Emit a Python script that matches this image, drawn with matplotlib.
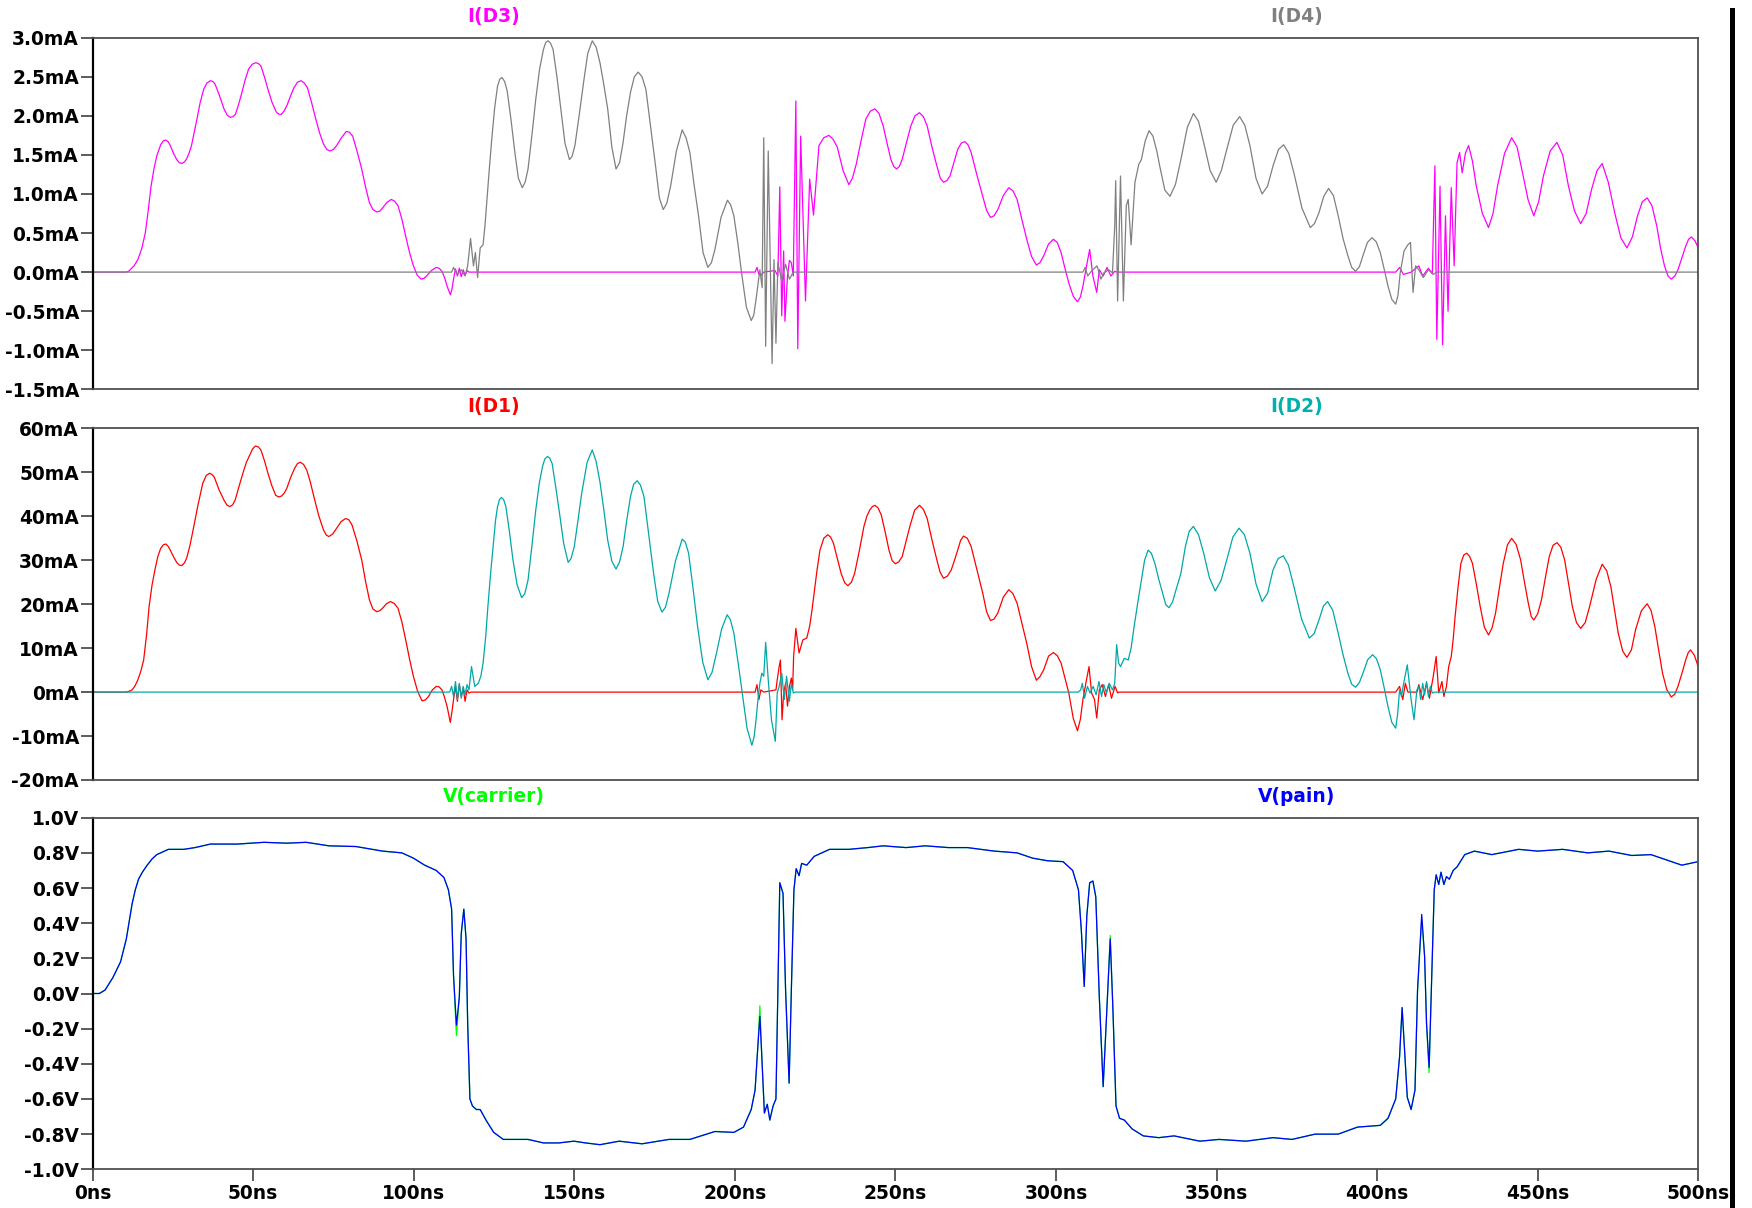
import matplotlib
matplotlib.use("Agg")
import matplotlib.pyplot as plt
from matplotlib.patches import Rectangle

# ---------------------------------------------------------------------------
# Transient waveforms: (time in ns, value)
# ---------------------------------------------------------------------------

# I(D3), mA
d3_points = [
    (0, 0), (10.5, 0), (11.2, 0.01), (11.7, 0.03), (12.9, 0.08), (14.1, 0.16), (15.3, 0.30),
    (16.4, 0.50), (17.3, 0.78), (18.2, 1.10), (19.1, 1.32), (20.0, 1.49), (21.2, 1.63),
    (22.0, 1.68), (22.8, 1.69), (23.5, 1.67), (24.2, 1.62), (25.2, 1.52), (26.2, 1.44),
    (27.0, 1.40), (27.8, 1.39), (28.6, 1.41), (29.3, 1.45), (30.1, 1.53), (30.8, 1.62),
    (31.6, 1.78), (32.5, 1.96), (33.5, 2.17), (34.6, 2.34), (35.6, 2.42), (36.7, 2.45),
    (37.4, 2.44), (38.1, 2.41), (39.5, 2.26), (40.9, 2.09), (41.9, 2.01), (42.9, 1.98),
    (43.7, 1.99), (44.5, 2.02), (45.5, 2.15), (46.5, 2.30), (47.5, 2.46), (48.6, 2.60),
    (49.7, 2.66), (50.8, 2.68), (51.6, 2.67), (52.4, 2.64), (53.5, 2.50), (54.6, 2.34),
    (55.9, 2.17), (57.2, 2.05), (58.0, 2.02), (58.8, 2.02), (59.6, 2.06), (60.5, 2.13),
    (61.6, 2.25), (62.7, 2.36), (63.8, 2.43), (64.9, 2.45), (65.9, 2.42), (66.9, 2.36),
    (68.2, 2.17), (69.5, 1.96), (70.7, 1.78), (71.9, 1.64), (72.9, 1.57), (73.9, 1.55),
    (75.0, 1.57), (76.0, 1.62), (77.5, 1.72), (79.0, 1.80), (80.0, 1.79), (81.0, 1.74),
    (82.4, 1.54), (83.8, 1.32), (85.0, 1.09), (86.2, 0.89), (87.3, 0.80), (88.5, 0.77),
    (89.4, 0.78), (90.3, 0.82), (91.6, 0.89), (93.0, 0.93), (94.0, 0.91), (95.1, 0.85),
    (96.3, 0.68), (97.5, 0.46), (98.7, 0.25), (99.9, 0.08), (101.1, -0.04), (102.3, -0.09),
    (103.2, -0.08), (104.0, -0.05), (105.5, 0.02), (107.0, 0.06), (107.9, 0.05),
    (108.8, 0.01), (109.6, -0.07), (110.4, -0.18), (111.4, -0.29), (111.9, -0.22),
    (112.4, -0.09), (113.0, 0.04), (113.6, -0.05), (114.2, 0.05), (114.8, -0.06),
    (115.4, 0.03), (116.0, -0.04), (116.6, 0.02), (117.2, 0),
    (206.3, 0), (206.9, 0.06), (207.5, -0.03), (208.1, -0.04), (209.0, 0.0), (212.5, 0.02),
    (213.4, -0.05), (214.0, 1.09), (214.6, -0.56), (215.2, 0.27), (215.6, -0.63),
    (216.4, -0.05), (217.0, 0.15), (217.6, 0.12), (218.2, -0.05), (219.0, 2.19),
    (219.6, -0.98), (220.5, 1.74), (222.0, -0.37), (223.3, 1.19), (224.5, 0.73),
    (225.3, 1.15), (226.2, 1.62), (227.7, 1.72), (229.3, 1.75), (230.6, 1.70), (231.9, 1.60),
    (233.7, 1.30), (235.5, 1.12), (236.6, 1.20), (237.8, 1.38), (239.3, 1.68), (240.8, 1.96),
    (242.2, 2.06), (243.6, 2.09), (244.9, 2.03), (246.2, 1.87), (247.4, 1.65), (248.6, 1.44),
    (249.5, 1.35), (250.4, 1.32), (251.2, 1.35), (252.1, 1.44), (253.4, 1.65), (254.8, 1.87),
    (256.1, 2.00), (257.5, 2.04), (258.7, 1.99), (259.9, 1.87), (261.4, 1.60), (262.9, 1.36),
    (264.0, 1.20), (265.0, 1.15), (266.0, 1.17), (267.0, 1.23), (268.2, 1.40), (269.4, 1.57),
    (270.5, 1.65), (271.6, 1.67), (272.6, 1.63), (273.6, 1.53), (275.4, 1.24), (277.2, 0.97),
    (278.4, 0.79), (279.6, 0.70), (280.7, 0.72), (281.9, 0.80), (283.6, 0.98), (285.3, 1.08),
    (286.6, 1.04), (287.9, 0.93), (289.4, 0.67), (290.9, 0.42), (292.4, 0.20), (293.9, 0.09),
    (295.0, 0.12), (296.2, 0.21), (297.7, 0.36), (299.2, 0.42), (300.4, 0.38), (301.6, 0.25),
    (302.8, 0.05), (304.0, -0.14), (305.4, -0.31), (306.7, -0.38), (307.6, -0.32),
    (308.4, -0.18), (309.3, 0.03), (310.5, 0.29), (311.5, -0.05), (312.7, -0.26),
    (313.5, 0.03), (314.7, -0.05), (315.9, 0.06), (317.1, -0.05), (318.3, 0.01), (318.9, 0),
    (405.8, 0), (407.0, 0.06), (408.2, -0.03), (410.6, 0), (413.0, 0.08), (414.2, -0.05),
    (416.0, 0.05), (417.2, -0.02), (418.0, 1.36), (418.6, -0.86), (419.6, 1.10),
    (420.4, -0.93), (421.3, 0.72), (422.1, -0.50), (423.1, 1.08), (424.0, 0.08),
    (424.9, 1.40), (425.7, 1.53), (426.5, 1.27), (427.5, 1.52), (428.5, 1.62), (429.7, 1.42),
    (430.9, 1.10), (432.8, 0.75), (434.7, 0.57), (436.1, 0.75), (437.5, 1.10), (439.7, 1.52),
    (441.9, 1.72), (443.6, 1.60), (445.3, 1.27), (447.0, 0.93), (448.8, 0.72), (450.3, 0.90),
    (451.8, 1.23), (453.9, 1.55), (456.0, 1.66), (457.8, 1.50), (459.6, 1.10), (461.5, 0.78),
    (463.4, 0.62), (465.1, 0.75), (466.8, 1.06), (468.5, 1.30), (470.1, 1.39), (472.0, 1.15),
    (474.0, 0.76), (475.9, 0.44), (477.8, 0.31), (479.5, 0.45), (481.1, 0.72), (482.6, 0.90),
    (484.1, 0.95), (485.6, 0.85), (487.1, 0.59), (488.3, 0.30), (489.5, 0.08),
    (490.6, -0.05), (491.6, -0.09), (492.7, -0.05), (493.7, 0.03), (494.9, 0.18),
    (496.1, 0.33), (497.0, 0.42), (497.9, 0.45), (499.0, 0.40), (500.0, 0.31),
]

# I(D4), mA
d4_points = [
    (0, 0), (111.8, 0), (112.4, 0.06), (113.6, -0.03), (114.8, 0.03), (116.0, -0.05),
    (116.8, 0.08), (117.7, 0.43), (118.6, 0.08), (119.2, 0.25), (119.9, -0.07),
    (120.7, 0.31), (121.6, 0.35), (122.2, 0.60), (122.8, 0.93), (123.5, 1.30), (124.3, 1.70),
    (125.2, 2.10), (126.1, 2.38), (126.8, 2.47), (127.5, 2.49), (128.3, 2.44), (129.1, 2.32),
    (130.3, 1.95), (131.5, 1.53), (132.6, 1.20), (133.8, 1.08), (134.7, 1.15), (135.6, 1.32),
    (136.8, 1.75), (138.0, 2.21), (139.2, 2.60), (140.4, 2.85), (141.1, 2.94), (141.8, 2.96),
    (142.6, 2.93), (143.4, 2.85), (144.6, 2.50), (145.8, 2.09), (147.1, 1.65), (148.5, 1.44),
    (149.3, 1.48), (150.2, 1.62), (151.5, 2.00), (152.9, 2.43), (154.2, 2.80), (155.6, 2.96),
    (156.8, 2.88), (158.0, 2.68), (159.2, 2.40), (160.4, 2.09), (161.7, 1.60), (163.0, 1.32),
    (164.1, 1.40), (165.2, 1.66), (166.3, 2.00), (167.5, 2.30), (168.7, 2.50), (169.9, 2.56),
    (171.1, 2.50), (172.3, 2.34), (173.8, 1.85), (175.3, 1.36), (176.5, 0.95), (177.7, 0.80),
    (178.8, 0.88), (180.0, 1.10), (181.8, 1.55), (183.6, 1.82), (184.8, 1.72), (186.0, 1.53),
    (187.3, 1.12), (188.7, 0.72), (190.1, 0.25), (191.6, 0.06), (192.7, 0.12), (193.8, 0.29),
    (195.7, 0.70), (197.7, 0.92), (198.7, 0.86), (199.7, 0.72), (200.9, 0.38),
    (202.1, -0.01), (203.6, -0.45), (205.1, -0.62), (205.9, -0.55), (206.6, -0.35),
    (207.8, 0.03), (208.5, -0.20), (209.0, 1.72), (209.6, -0.95), (210.4, 1.55),
    (211.6, -1.17), (212.2, 0.16), (212.8, -0.91), (213.4, 0.12), (214.6, -0.11),
    (215.8, 0.10), (217.0, -0.09), (218.2, 0.0),
    (307.6, 0), (308.4, 0.0), (309.1, 0.06), (309.9, -0.05), (311.0, 0.01), (312.8, 0.08),
    (314.0, -0.09), (314.9, -0.01), (316.4, 0.03), (317.6, -0.01), (318.3, 0.59),
    (318.6, 1.17), (319.2, -0.37), (320.1, 1.23), (321.0, -0.37), (321.9, 0.85),
    (322.5, 0.93), (323.4, 0.35), (324.6, 1.15), (325.8, 1.38), (326.6, 1.44), (327.8, 1.68),
    (329.0, 1.81), (330.2, 1.74), (331.4, 1.55), (332.3, 1.36), (333.9, 1.05), (335.5, 0.97),
    (337.2, 1.12), (338.9, 1.44), (340.9, 1.85), (342.8, 2.03), (344.4, 1.93), (346.0, 1.66),
    (348.0, 1.30), (349.9, 1.15), (351.5, 1.30), (353.2, 1.57), (355.2, 1.88), (357.2, 1.99),
    (358.8, 1.88), (360.4, 1.62), (362.3, 1.20), (364.2, 1.00), (365.9, 1.10), (367.6, 1.36),
    (369.3, 1.57), (370.9, 1.63), (372.5, 1.52), (374.1, 1.27), (376.6, 0.82), (379.2, 0.57),
    (380.5, 0.62), (381.9, 0.76), (383.4, 0.97), (384.9, 1.07), (386.4, 0.98), (387.9, 0.72),
    (389.4, 0.43), (390.9, 0.21), (392.1, 0.06), (393.3, 0.01), (394.5, 0.07), (395.6, 0.21),
    (397.0, 0.38), (398.4, 0.44), (399.7, 0.39), (401.0, 0.25), (402.2, 0.04),
    (403.4, -0.18), (404.6, -0.35), (405.8, -0.41), (406.5, -0.30), (407.2, -0.01),
    (408.4, 0.27), (409.6, 0.35), (410.4, 0.38), (411.2, -0.26), (412.0, 0.08),
    (413.0, 0.03), (414.4, -0.07), (416.0, 0.03), (417.5, -0.03), (418.5, 0), (500.0, 0),
]

# I(D1), mA
d1_points = [
    (0, 0), (10.5, 0), (11.4, 0.2), (12.3, 0.5), (13.2, 1.4), (14.1, 2.8), (15.0, 4.7),
    (15.9, 7.3), (16.8, 13.0), (17.6, 19.5), (18.5, 24.3), (19.4, 27.8), (20.3, 30.8),
    (21.2, 32.7), (22.0, 33.5), (22.8, 33.7), (23.5, 33.2), (24.2, 32.3), (25.2, 30.8),
    (26.2, 29.5), (27.0, 28.9), (27.8, 28.8), (28.6, 29.4), (29.3, 30.5), (30.3, 33.3),
    (31.3, 36.9), (32.8, 42.5), (34.3, 47.5), (35.4, 49.3), (36.5, 49.8), (37.2, 49.5),
    (37.9, 48.9), (39.4, 46.0), (40.9, 43.7), (41.8, 42.6), (42.7, 42.2), (43.6, 42.6),
    (44.4, 43.7), (45.6, 46.8), (46.8, 49.8), (47.9, 52.3), (48.9, 53.9), (49.8, 55.3),
    (50.7, 56.0), (51.6, 55.8), (52.4, 55.1), (53.5, 52.7), (54.6, 49.8), (55.8, 47.0),
    (57.0, 44.8), (57.9, 44.4), (58.8, 44.6), (59.7, 45.3), (60.5, 46.4), (61.7, 48.9),
    (62.9, 50.9), (63.8, 52.0), (64.7, 52.3), (65.7, 51.8), (66.7, 50.5), (67.8, 47.8),
    (68.9, 44.5), (70.4, 40.2), (71.9, 36.9), (72.8, 35.7), (73.6, 35.4), (74.8, 36.0),
    (76.0, 37.3), (77.4, 38.8), (78.8, 39.5), (79.8, 39.2), (80.8, 38.0), (82.3, 34.4),
    (83.8, 30.1), (85.0, 25.2), (86.2, 21.0), (87.3, 18.9), (88.5, 18.3), (89.4, 18.5),
    (90.3, 19.1), (91.5, 20.1), (92.7, 20.6), (93.9, 20.2), (95.1, 19.1), (96.3, 16.0),
    (97.5, 11.9), (98.7, 7.5), (99.9, 3.6), (101.2, 0.2), (102.6, -2.0), (103.6, -1.8),
    (104.6, -1.0), (105.8, 0.5), (107.0, 1.3), (107.9, 1.2), (108.8, 0.5), (109.6, -1.2),
    (110.4, -3.3), (111.4, -6.9), (111.9, -4.5), (112.4, -1.7), (113.0, 1.3), (113.6, -2.1),
    (114.2, 1.7), (114.8, -1.0), (115.4, 0.9), (116.0, -2.1), (116.6, 0.5), (117.2, -0.2),
    (117.8, 0),
    (206.3, 0), (206.9, 1.7), (207.5, -1.7), (208.1, 0.5), (209.0, 0), (212.8, 0.5),
    (213.2, 2.8), (213.8, 5.8), (214.2, 7.3), (214.7, -6.3), (215.2, -0.2), (215.8, 2.0),
    (216.4, -3.2), (217.0, 1.3), (217.6, 3.2), (218.0, 0.5), (218.3, 8.1), (219.0, 14.5),
    (220.0, 8.9), (221.2, 11.9), (222.4, 12.3), (223.3, 15.0), (224.0, 18.5), (224.7, 22.5),
    (225.6, 27.8), (226.5, 32.3), (227.7, 35.0), (228.9, 35.8), (229.8, 35.3), (230.7, 33.9),
    (231.9, 30.5), (233.1, 27.0), (234.2, 24.9), (235.2, 24.2), (236.3, 25.0), (237.3, 27.0),
    (238.8, 32.3), (240.2, 37.7), (241.1, 40.0), (242.0, 41.4), (242.8, 42.2), (243.6, 42.5),
    (244.6, 41.9), (245.6, 40.3), (246.8, 36.5), (248.0, 32.3), (249.0, 29.9), (250.0, 29.2),
    (251.0, 29.6), (252.1, 30.8), (253.3, 34.2), (254.5, 37.7), (256.0, 41.4), (257.5, 42.5),
    (258.7, 41.6), (259.9, 39.5), (261.4, 34.6), (262.9, 30.1), (263.9, 27.3), (265.0, 25.9),
    (266.2, 26.4), (267.4, 27.8), (268.4, 30.0), (269.4, 32.3), (270.3, 34.5), (271.2, 35.5),
    (272.4, 35.0), (273.6, 33.1), (275.4, 27.8), (277.2, 22.5), (278.4, 18.3), (279.6, 16.3),
    (280.7, 16.6), (281.9, 18.0), (283.6, 21.6), (285.3, 23.3), (286.6, 22.4), (287.9, 20.2),
    (289.4, 15.6), (290.9, 11.1), (292.4, 5.8), (293.9, 2.7), (295.0, 3.5), (296.2, 5.1),
    (297.7, 8.2), (299.2, 9.0), (300.4, 8.3), (301.6, 6.6), (302.8, 3.2), (304.0, -0.2),
    (305.4, -6.0), (306.7, -8.8), (307.6, -6.2), (308.4, -1.7), (309.3, 2.0), (310.3, 5.8),
    (311.1, -0.2), (312.0, -1.7), (312.7, -5.9), (313.5, 0.5), (314.4, 1.7), (315.4, -1.0),
    (316.4, 1.7), (317.3, -1.4), (318.4, 1.3), (319.2, -0.2), (319.5, 0),
    (405.8, 0), (407.0, 1.3), (408.0, -1.7), (408.8, 2.0), (409.6, 0), (412.4, 0),
    (413.0, 1.7), (414.2, -1.7), (415.4, 2.0), (416.3, -1.4), (417.5, 3.6), (418.4, 8.1),
    (419.2, -0.2), (420.2, 2.4), (420.8, -1.0), (421.6, 1.3), (422.3, 5.8), (423.1, 8.1),
    (423.7, 12.0), (424.3, 17.2), (425.2, 23.8), (426.1, 29.3), (427.0, 31.2), (427.9, 31.6),
    (428.8, 30.9), (429.7, 29.3), (430.9, 24.6), (432.1, 19.5), (433.4, 14.8), (434.7, 13.0),
    (435.8, 14.6), (436.9, 18.0), (438.1, 23.8), (439.3, 29.3), (440.6, 33.5), (441.9, 35.0),
    (443.3, 33.6), (444.7, 30.1), (445.9, 25.0), (447.1, 20.2), (448.0, 17.2), (448.8, 16.4),
    (450.0, 17.8), (451.2, 21.0), (452.4, 26.0), (453.6, 30.8), (454.8, 33.4), (456.0, 34.0),
    (457.2, 33.0), (458.4, 30.1), (459.6, 24.8), (460.8, 19.5), (462.1, 15.8), (463.4, 14.5),
    (464.8, 15.8), (466.2, 19.5), (468.2, 25.6), (470.1, 29.1), (471.5, 27.6), (472.8, 24.0),
    (474.0, 18.5), (475.1, 13.4), (476.5, 9.3), (477.8, 7.9), (479.2, 9.6), (480.5, 14.2),
    (482.3, 18.5), (484.1, 20.1), (485.3, 18.6), (486.5, 14.9), (487.7, 9.5), (488.9, 4.3),
    (490.2, 0.6), (491.6, -1.1), (492.7, -0.5), (493.7, 1.3), (494.9, 4.2), (496.1, 7.3),
    (496.9, 9.0), (497.6, 9.6), (498.8, 8.4), (500.0, 5.8),
]

# I(D2), mA
d2_points = [
    (0, 0), (111.2, 0), (111.8, 1.3), (112.4, -1.0), (113.0, 2.4), (113.6, -1.7),
    (114.2, 2.0), (114.8, -1.4), (115.4, 1.3), (116.0, -0.6), (116.6, 1.7), (117.2, 0.5),
    (118.0, 5.8), (119.0, 1.3), (120.1, 2.0), (120.9, 3.6), (121.6, 6.6), (122.4, 12.5),
    (123.1, 19.5), (124.0, 27.5), (124.9, 34.6), (125.5, 39.2), (126.1, 42.2), (126.7, 43.8),
    (127.3, 44.3), (128.0, 43.8), (128.7, 42.2), (129.8, 36.5), (130.9, 30.1), (132.2, 24.4),
    (133.6, 21.5), (134.6, 22.4), (135.6, 25.5), (136.8, 33.2), (138.0, 41.4), (139.1, 47.5),
    (140.1, 51.3), (140.8, 53.0), (141.6, 53.6), (142.3, 53.3), (143.1, 52.0), (144.2, 46.8),
    (145.4, 40.7), (146.7, 33.8), (148.1, 29.5), (149.0, 30.4), (150.0, 33.1), (151.1, 38.8),
    (152.3, 45.2), (154.0, 52.3), (155.6, 55.1), (156.8, 52.5), (158.0, 47.8), (159.2, 41.5),
    (160.4, 34.6), (161.7, 29.8), (163.0, 28.0), (164.1, 29.6), (165.2, 33.1), (166.3, 38.9),
    (167.5, 44.5), (168.5, 47.3), (169.6, 48.1), (170.6, 47.1), (171.7, 44.5), (173.2, 35.8),
    (174.7, 27.0), (176.0, 20.6), (177.3, 18.2), (178.4, 19.3), (179.5, 22.5), (181.5, 29.8),
    (183.6, 34.8), (184.6, 34.1), (185.6, 31.6), (187.0, 23.5), (188.4, 14.9), (190.0, 6.8),
    (191.6, 2.8), (192.9, 4.5), (194.3, 8.9), (195.9, 14.4), (197.6, 17.6), (198.6, 16.5),
    (199.7, 13.4), (201.0, 6.8), (202.3, -0.2), (203.8, -8.2), (205.3, -12.1), (206.0, -10.2),
    (206.6, -6.3), (207.2, -1.7), (207.8, 2.0), (208.4, 4.3), (209.0, 3.6), (209.6, 11.3),
    (210.4, 2.8), (211.4, -6.3), (212.6, -11.2), (213.2, -0.2), (213.8, 1.3), (214.6, 4.3),
    (215.4, -1.7), (216.1, 3.6), (217.0, -2.1), (217.6, 2.0), (218.2, -0.2), (218.8, 0),
    (307.0, 0), (307.7, 0.5), (308.2, 2.0), (308.9, -1.4), (309.8, 1.3), (310.6, -0.2),
    (311.6, 1.3), (312.5, -0.6), (313.4, 2.4), (314.2, -1.0), (314.9, 1.7), (315.7, -0.2),
    (316.6, 2.0), (317.6, 0.5), (318.3, 2.0), (318.9, 10.8), (319.5, 6.6), (320.1, 5.8),
    (321.3, 7.7), (322.5, 7.3), (323.4, 10.0), (324.2, 14.2), (325.4, 20.0), (326.6, 25.5),
    (327.6, 30.0), (328.7, 32.3), (329.7, 31.6), (330.8, 29.3), (332.0, 25.7), (333.2, 22.5),
    (334.2, 19.9), (335.2, 19.2), (336.3, 20.5), (337.4, 23.3), (338.9, 27.0), (340.3, 33.1),
    (341.5, 36.6), (342.8, 37.7), (344.4, 35.8), (346.0, 31.6), (347.8, 26.0), (349.6, 23.0),
    (351.4, 25.4), (353.2, 30.1), (355.1, 35.3), (357.0, 37.3), (358.7, 35.8), (360.4, 31.6),
    (362.3, 24.6), (364.2, 20.6), (365.9, 22.5), (367.6, 27.8), (369.2, 30.4), (370.8, 31.0),
    (372.4, 28.9), (374.1, 24.0), (376.5, 16.6), (378.9, 12.3), (380.4, 13.3), (381.9, 16.4),
    (383.3, 19.6), (384.6, 20.6), (386.2, 18.6), (387.9, 13.4), (389.4, 8.5), (390.9, 4.3),
    (392.1, 1.8), (393.3, 1.1), (394.5, 2.2), (395.6, 4.3), (397.1, 7.4), (398.6, 8.5),
    (399.8, 7.6), (401.0, 5.1), (402.2, 1.0), (403.4, -3.3), (404.6, -6.9), (405.8, -8.2),
    (406.4, -5.0), (407.0, 0.5), (407.6, -1.0), (408.2, 1.7), (409.4, 6.2), (410.6, -1.7),
    (411.5, -6.3), (412.4, 0.5), (413.0, 1.3), (413.6, -1.7), (414.2, 2.0), (414.8, -0.6),
    (415.4, 2.4), (416.0, -1.0), (416.6, 1.3), (417.2, -0.2), (418.0, 0), (500.0, 0),
]

# V(carrier) and V(pain) share one time base, V
t_v = [0, 2.1, 3.9, 6.3, 8.7, 10.5, 12.3, 13.3, 14.3, 15.5, 17.0, 18.5, 20.0, 21.8,
       23.6, 28.4, 31.9, 36.7, 45.0, 53.4, 60.5, 66.5, 73.6, 82.0,
       90.3, 96.3, 99.9, 103.4, 107.0, 109.4, 110.8, 111.8, 112.4, 113.3,
       114.2, 114.8, 115.6, 116.3, 116.8, 117.5, 118.3, 119.5, 120.7, 122.5,
       124.9, 127.9, 130.9, 135.6, 140.4, 145.2, 149.9, 153.5, 158.0, 164.0,
       171.1, 179.5, 186.0, 193.8, 199.7, 202.7, 205.1, 206.3, 207.1, 207.8,
       208.4, 209.2, 210.1, 210.9, 211.9, 212.8, 213.4, 214.0, 215.0, 215.8,
       216.9, 217.6, 218.4, 219.1, 220.0, 220.8, 222.4, 224.7, 229.5, 235.5,
       241.4, 246.2, 253.3, 259.3, 266.5, 272.4, 280.8, 287.9, 292.7, 297.4,
       302.2, 305.2, 307.0, 307.9, 308.8, 309.6, 310.5, 311.5, 312.4, 313.5,
       314.7, 315.9, 316.9, 317.7, 318.7, 319.8, 321.3, 323.7, 327.2, 332.0,
       336.8, 344.8, 350.8, 359.2, 367.6, 373.5, 380.7, 387.9, 393.9, 401.0,
       403.4, 405.8, 407.0, 407.8, 408.6, 409.4, 410.6, 411.8, 412.6, 413.9,
       414.8, 415.4, 416.2, 416.9, 417.8, 418.4, 419.2, 419.9, 420.8, 421.6,
       422.5, 423.7, 424.9, 427.3, 430.3, 435.7, 444.1, 450.0, 457.8, 465.6,
       472.2, 479.3, 485.3, 490.1, 494.9, 500.0]
v_pain = [0.0, 0.0, 0.02, 0.09, 0.18, 0.31, 0.51, 0.59, 0.65, 0.69, 0.73, 0.765, 0.79, 0.805,
          0.82, 0.82, 0.83, 0.85, 0.85, 0.86, 0.855, 0.86, 0.84, 0.836,
          0.81, 0.80, 0.77, 0.73, 0.70, 0.66, 0.59, 0.48, 0.10, -0.18,
          -0.02, 0.34, 0.48, 0.31, -0.17, -0.60, -0.64, -0.66, -0.66, -0.72,
          -0.79, -0.83, -0.83, -0.83, -0.85, -0.85, -0.84, -0.85, -0.86, -0.84,
          -0.855, -0.83, -0.83, -0.785, -0.79, -0.76, -0.66, -0.55, -0.32, -0.13,
          -0.36, -0.68, -0.63, -0.72, -0.64, -0.60, 0.02, 0.63, 0.57, 0.02,
          -0.51, 0.02, 0.59, 0.71, 0.67, 0.74, 0.73, 0.78, 0.82, 0.82,
          0.83, 0.84, 0.83, 0.84, 0.83, 0.83, 0.81, 0.80, 0.77, 0.755,
          0.75, 0.70, 0.59, 0.36, 0.04, 0.44, 0.63, 0.64, 0.55, -0.02,
          -0.53, -0.07, 0.31, -0.07, -0.64, -0.71, -0.72, -0.77, -0.81, -0.82,
          -0.81, -0.84, -0.83, -0.84, -0.82, -0.83, -0.80, -0.80, -0.76, -0.75,
          -0.71, -0.60, -0.36, -0.08, -0.34, -0.59, -0.66, -0.55, 0.02, 0.45,
          0.21, -0.17, -0.42, 0.02, 0.59, 0.675, 0.62, 0.69, 0.62, 0.665,
          0.65, 0.70, 0.72, 0.79, 0.81, 0.79, 0.82, 0.81, 0.82, 0.80,
          0.81, 0.785, 0.79, 0.76, 0.73, 0.75]
v_carrier = [0.0, 0.0, 0.02, 0.09, 0.18, 0.31, 0.51, 0.59, 0.65, 0.69, 0.73, 0.765, 0.79, 0.805,
             0.82, 0.82, 0.83, 0.85, 0.85, 0.86, 0.855, 0.86, 0.84, 0.836,
             0.81, 0.80, 0.77, 0.73, 0.70, 0.66, 0.59, 0.48, 0.10, -0.24,
             -0.02, 0.34, 0.48, 0.31, -0.17, -0.60, -0.64, -0.66, -0.66, -0.72,
             -0.79, -0.83, -0.83, -0.83, -0.85, -0.85, -0.84, -0.85, -0.86, -0.84,
             -0.855, -0.83, -0.83, -0.785, -0.79, -0.76, -0.66, -0.55, -0.32, -0.07,
             -0.36, -0.68, -0.63, -0.72, -0.64, -0.60, 0.02, 0.63, 0.57, 0.02,
             -0.51, 0.02, 0.59, 0.71, 0.67, 0.74, 0.73, 0.78, 0.82, 0.82,
             0.83, 0.84, 0.83, 0.84, 0.83, 0.83, 0.81, 0.80, 0.77, 0.755,
             0.75, 0.70, 0.59, 0.36, 0.04, 0.44, 0.63, 0.64, 0.55, -0.02,
             -0.53, -0.07, 0.33, -0.07, -0.64, -0.71, -0.72, -0.77, -0.81, -0.82,
             -0.81, -0.84, -0.83, -0.84, -0.82, -0.83, -0.80, -0.80, -0.76, -0.75,
             -0.71, -0.60, -0.36, -0.08, -0.34, -0.59, -0.66, -0.55, 0.02, 0.42,
             0.21, -0.17, -0.45, 0.02, 0.59, 0.675, 0.62, 0.69, 0.62, 0.665,
             0.65, 0.70, 0.72, 0.79, 0.81, 0.79, 0.82, 0.81, 0.82, 0.80,
             0.81, 0.785, 0.79, 0.76, 0.73, 0.75]

# Axis ticks and labels
x_ticks = [0, 50, 100, 150, 200, 250, 300, 350, 400, 450, 500]
x_labels = ["0ns", "50ns", "100ns", "150ns", "200ns", "250ns",
            "300ns", "350ns", "400ns", "450ns", "500ns"]
y1_ticks = [-1.5, -1.0, -0.5, 0.0, 0.5, 1.0, 1.5, 2.0, 2.5, 3.0]
y1_labels = ["-1.5mA", "-1.0mA", "-0.5mA", "0.0mA", "0.5mA",
             "1.0mA", "1.5mA", "2.0mA", "2.5mA", "3.0mA"]
y2_ticks = [-20, -10, 0, 10, 20, 30, 40, 50, 60]
y2_labels = ["-20mA", "-10mA", "0mA", "10mA", "20mA",
             "30mA", "40mA", "50mA", "60mA"]
y3_ticks = [-1.0, -0.8, -0.6, -0.4, -0.2, 0.0, 0.2, 0.4, 0.6, 0.8, 1.0]
y3_labels = ["-1.0V", "-0.8V", "-0.6V", "-0.4V", "-0.2V", "0.0V",
             "0.2V", "0.4V", "0.6V", "0.8V", "1.0V"]

# Trace colours
C_D3 = "#ff00ff"
C_D4 = "#808080"
C_D1 = "#ff0000"
C_D2 = "#00a8a8"
C_CARRIER = "#00ff00"
C_PAIN = "#0000ff"

FONT = dict(family="DejaVu Sans", weight="bold", size=13.4)


def unzip(points):
    ts, vs = zip(*points)
    return list(ts), list(vs)


W_PX, H_PX = 1752, 1208
fig = plt.figure(figsize=(W_PX / 100, H_PX / 100), dpi=100)
fig.patch.set_facecolor("white")

left = 92.6 / W_PX
width = (1698.2 - 92.6) / W_PX
height = 351.6 / H_PX
panel_bottoms = [1 - 389.3 / H_PX, 1 - 780.0 / H_PX, 1 - 1169.3 / H_PX]

axes = [fig.add_axes([left, b, width, height]) for b in panel_bottoms]


def style(ax, yticks, ylabels, ylim, show_x):
    ax.set_xlim(0, 500)
    ax.set_ylim(*ylim)
    ax.set_yticks(yticks)
    ax.set_yticklabels(ylabels, **FONT)
    ax.tick_params(axis="y", direction="out", length=8.6, width=1.1,
                   color="#303030", pad=1.2, labelcolor="black")
    if show_x:
        ax.set_xticks(x_ticks)
        ax.set_xticklabels(x_labels, **FONT)
        ax.tick_params(axis="x", direction="out", length=8.6, width=1.1,
                       color="#303030", pad=2.0, labelcolor="black")
    else:
        ax.set_xticks([])
    for side in ("top", "bottom", "right"):
        ax.spines[side].set_color("#505050")
        ax.spines[side].set_linewidth(1.3)
    ax.spines["left"].set_color("black")
    ax.spines["left"].set_linewidth(1.6)
    ax.set_facecolor("white")


def trace_label(ax, xfrac, text, color):
    ax.annotate(text, xy=(xfrac, 1.0), xycoords="axes fraction",
                xytext=(0, 15.5), textcoords="offset points",
                ha="center", va="center", color=color, **FONT)


LW = 0.9

ax1, ax2, ax3 = axes
ax1.plot(*unzip(d3_points), color=C_D3, lw=LW)
ax1.plot(*unzip(d4_points), color=C_D4, lw=LW)
style(ax1, y1_ticks, y1_labels, (-1.5, 3.0), False)
trace_label(ax1, 0.25, "I(D3)", C_D3)
trace_label(ax1, 0.75, "I(D4)", C_D4)

ax2.plot(*unzip(d1_points), color=C_D1, lw=LW)
ax2.plot(*unzip(d2_points), color=C_D2, lw=LW)
style(ax2, y2_ticks, y2_labels, (-20, 60), False)
trace_label(ax2, 0.25, "I(D1)", C_D1)
trace_label(ax2, 0.75, "I(D2)", "#00b0b0")

ax3.plot(t_v, v_carrier, color=C_CARRIER, lw=LW)
ax3.plot(t_v, v_pain, color=C_PAIN, lw=LW)
style(ax3, y3_ticks, y3_labels, (-1.0, 1.0), True)
trace_label(ax3, 0.25, "V(carrier)", C_CARRIER)
trace_label(ax3, 0.75, "V(pain)", C_PAIN)

# window edge at the right
fig.add_artist(Rectangle((1729.5 / W_PX, 0), 5.0 / W_PX, (H_PX - 8.3) / H_PX,
                         transform=fig.transFigure, color="black", lw=0))

fig.savefig("out.png", dpi=100, facecolor="white")
